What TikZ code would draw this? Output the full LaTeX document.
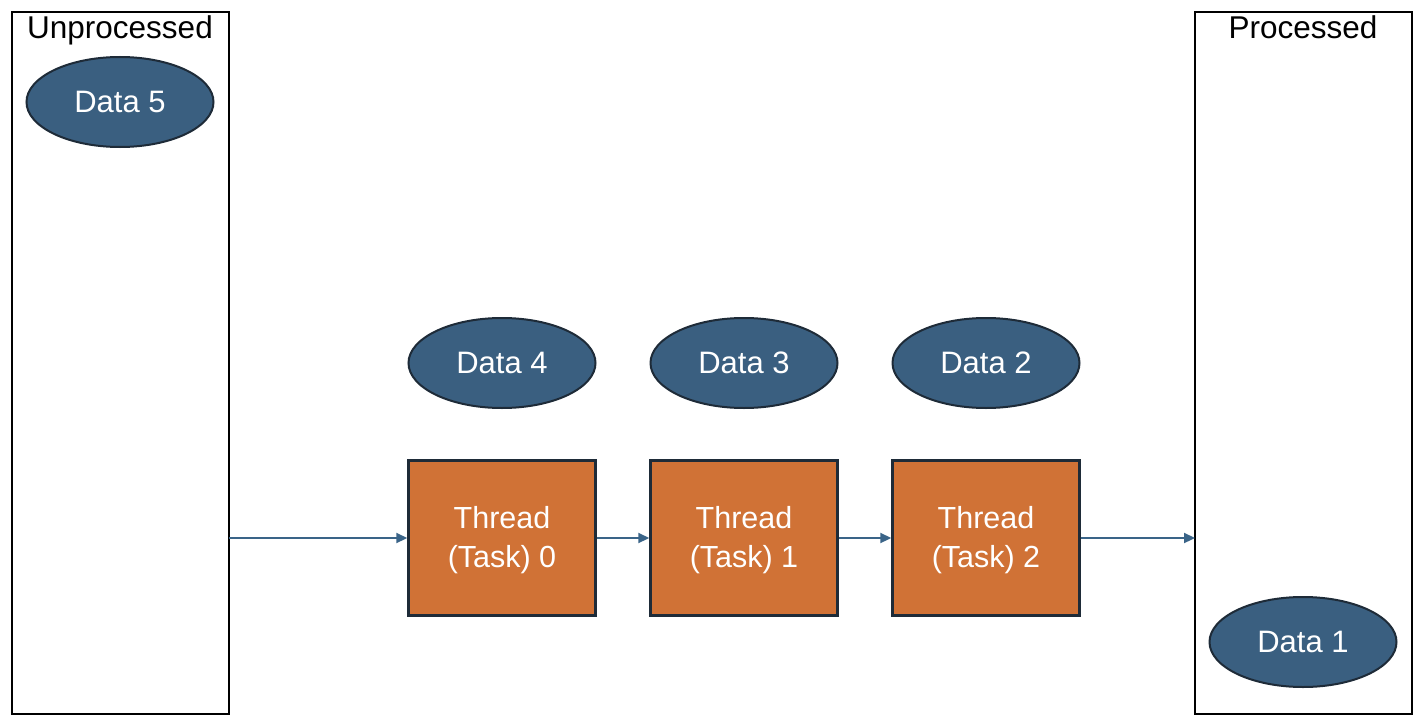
\documentclass[tikz,border=0pt]{standalone}
\usepackage{fontspec}
\setmainfont{Liberation Sans}
\usetikzlibrary{shapes.geometric,arrows.meta}
\definecolor{datafill}{HTML}{3A5F80}
\definecolor{darkedge}{HTML}{1E2B38}
\definecolor{taskfill}{HTML}{D07236}
\definecolor{arrowc}{HTML}{3A6488}
\tikzset{
  container/.style={draw=black,line width=2.5pt,fill=white},
  datanode/.style={ellipse,draw=darkedge,fill=datafill,line width=2pt,minimum width=187pt,minimum height=90pt,inner sep=0pt,text=white,font=\fontsize{31}{36}\selectfont},
  tasknode/.style={rectangle,draw=darkedge,fill=taskfill,line width=2.5pt,minimum width=187pt,minimum height=155pt,inner sep=0pt,text=white,align=center,font=\fontsize{30.5}{39}\selectfont},
  tasklabel/.style={inner sep=0pt,text=white,align=center,font=\fontsize{30.5}{39}\selectfont},
  conn/.style={draw=arrowc,line width=2.2pt,-{Triangle[length=11pt,width=10pt]}},
  title/.style={anchor=base,inner sep=0pt,font=\fontsize{31.5}{36}\selectfont}
}
\begin{document}
\begin{tikzpicture}[x=1pt,y=-1pt]
\useasboundingbox (0,0) rectangle (1427,725);
\path[container] (12,12) rectangle (229,714);
\path[container] (1195,12) rectangle (1412,714);
\node[title] (tu) at (120,39) {Unprocessed};
\node[title] (tp) at (1303,39) {Processed};
\coordinate (lo) at (229,538);
\coordinate (ri) at (1195,538);
\node[datanode] (d5) at (120,102) {Data 5};
\node[datanode] (d4) at (502,363) {Data 4};
\node[datanode] (d3) at (744,363) {Data 3};
\node[datanode] (d2) at (986,363) {Data 2};
\node[datanode] (d1) at (1303,642) {Data 1};
\node[tasknode] (t0) at (502,538) {};
\node[tasknode] (t1) at (744,538) {};
\node[tasknode] (t2) at (986,538) {};
\node[tasklabel] (l0) at (502,540) {Thread\\(Task) 0};
\node[tasklabel] (l1) at (744,540) {Thread\\(Task) 1};
\node[tasklabel] (l2) at (986,540) {Thread\\(Task) 2};
\draw[conn] (lo) -- (t0.west);
\draw[conn] (t0.east) -- (t1.west);
\draw[conn] (t1.east) -- (t2.west);
\draw[conn] (t2.east) -- (ri);
\end{tikzpicture}
\end{document}
